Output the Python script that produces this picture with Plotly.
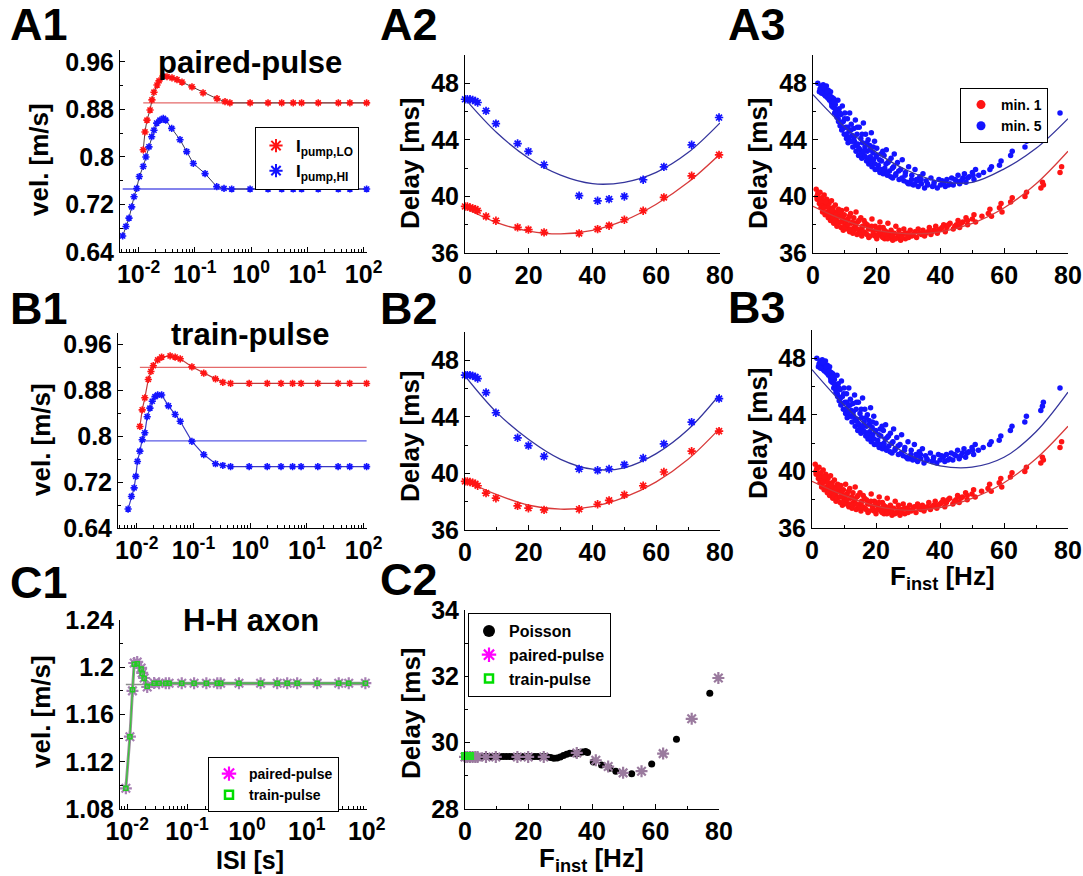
import plotly.graph_objects as go

W, H = 1083, 876
FONT = "Liberation Sans"
RED = "#ff1414"
BLUE = "#1414ff"
REDFIT = "#d83a3a"
BLUEFIT = "#34349c"

# ---------------- A1 : paired-pulse (ISI [s] vs velocity [m/s]) ----------------
a1_lo_isi = [0.0121, 0.0130, 0.0141, 0.0160, 0.0173, 0.0188, 0.0213, 0.0231, 0.0272, 0.032,
             0.0393, 0.0482, 0.0591, 0.089, 0.14, 0.248, 0.344, 0.42,
             0.96, 2.0, 3.5, 5.6, 7.9, 15.6, 35.5, 57, 113]
a1_lo_vel = [0.812, 0.842, 0.862, 0.879, 0.896, 0.909, 0.921, 0.928, 0.936, 0.935,
             0.933, 0.930, 0.926, 0.918, 0.908, 0.898, 0.893, 0.891,
             0.891, 0.891, 0.891, 0.891, 0.891, 0.891, 0.891, 0.891, 0.891]
a1_hi_isi = [0.00522, 0.00598, 0.00676, 0.00755, 0.0083, 0.00927, 0.0103, 0.0121, 0.0135, 0.0153,
             0.0171, 0.0188, 0.021, 0.024, 0.0275, 0.0303, 0.0388, 0.0545, 0.0716, 0.094,
             0.152, 0.245, 0.33, 0.452,
             0.96, 2.0, 3.5, 5.6, 7.9, 15.6, 35.5, 57, 113]
a1_hi_vel = [0.667, 0.683, 0.697, 0.716, 0.733, 0.747, 0.767, 0.784, 0.800, 0.817,
             0.834, 0.845, 0.857, 0.862, 0.865, 0.862, 0.848, 0.829, 0.809, 0.789,
             0.772, 0.750, 0.747, 0.746,
             0.746, 0.746, 0.746, 0.746, 0.746, 0.746, 0.746, 0.746, 0.746]
a1_ref_isi = [0.0121, 113]
a1_ref_lo = [0.891, 0.891]
a1_ref_hi_isi = [0.00522, 113]
a1_ref_hi = [0.746, 0.746]

# ---------------- B1 : train-pulse ----------------
b1_lo_isi = [0.01137, 0.0125, 0.0139, 0.016, 0.0178, 0.0196, 0.0234, 0.0275, 0.0388, 0.0476,
             0.0585, 0.094, 0.152, 0.245, 0.33, 0.452,
             0.96, 2.0, 3.5, 5.6, 7.9, 15.6, 35.5, 57, 113]
b1_lo_vel = [0.817, 0.846, 0.867, 0.899, 0.913, 0.923, 0.933, 0.938, 0.940, 0.938,
             0.935, 0.921, 0.910, 0.900, 0.894, 0.892,
             0.892, 0.892, 0.892, 0.892, 0.892, 0.892, 0.892, 0.892, 0.892]
b1_hi_isi = [0.00705, 0.00807, 0.009, 0.00964, 0.0103, 0.01137, 0.0125, 0.0139, 0.0153, 0.0171,
             0.0188, 0.021, 0.0234, 0.0275, 0.0362, 0.0476, 0.0585, 0.094, 0.152, 0.245,
             0.33, 0.452,
             0.96, 2.0, 3.5, 5.6, 7.9, 15.6, 35.5, 57, 113]
b1_hi_vel = [0.673, 0.695, 0.710, 0.730, 0.756, 0.774, 0.794, 0.806, 0.834, 0.849,
             0.861, 0.869, 0.872, 0.872, 0.853, 0.838, 0.826, 0.791, 0.768, 0.752,
             0.749, 0.747,
             0.747, 0.747, 0.747, 0.747, 0.747, 0.747, 0.747, 0.747, 0.747]
b1_ref_isi = [0.01137, 113]
b1_ref_lo = [0.920, 0.920]
b1_ref_hi = [0.792, 0.792]

# ---------------- A2 / B2 : delay vs F_inst ----------------
f_pp = [0, 0.73, 1.57, 2.4, 3.24, 3.97, 6.6, 9.7, 16.5, 19.9, 24.8,
        35.8, 41.6, 45.2, 50.0, 55.9, 62.4, 71.1, 79.7]
a2_hi = [46.87, 46.87, 46.87, 46.82, 46.75, 46.64, 46.05, 45.15, 43.74, 43.18, 42.24,
         40.05, 39.69, 39.81, 40.0, 41.18, 42.09, 43.65, 45.58]
a2_lo = [39.29, 39.29, 39.22, 39.15, 39.10, 38.99, 38.59, 38.28, 37.81, 37.65, 37.46,
         37.39, 37.69, 37.93, 38.35, 38.99, 39.93, 41.46, 42.94]
b2_hi = [46.95, 46.95, 46.95, 46.90, 46.83, 46.71, 45.72, 44.29, 42.52, 41.97, 41.21,
         40.31, 40.22, 40.31, 40.62, 41.09, 42.09, 43.63, 45.29]
b2_lo = [39.44, 39.44, 39.39, 39.34, 39.27, 39.13, 38.61, 38.25, 37.71, 37.54, 37.42,
         37.47, 37.82, 38.09, 38.49, 39.13, 40.10, 41.57, 42.99]

fit_f = [0, 10, 20, 30, 40, 50, 60, 70, 80]
a2_fit_hi = [46.9, 44.5, 42.7, 41.5, 40.9, 41.0, 41.7, 43.1, 45.2]
a2_fit_lo = [39.2, 38.15, 37.55, 37.35, 37.6, 38.3, 39.45, 41.0, 43.0]
b2_fit_hi = [46.9, 44.3, 42.4, 41.0, 40.3, 40.4, 41.4, 43.1, 45.6]
b2_fit_lo = [39.5, 38.5, 37.75, 37.47, 37.65, 38.3, 39.4, 41.0, 43.2]
a3_fit_hi = [47.2, 44.9, 43.1, 41.8, 41.05, 41.0, 41.95, 43.4, 45.5]
a3_fit_lo = [39.3, 38.3, 37.6, 37.35, 37.5, 38.1, 39.2, 40.9, 43.2]
b3_fit_hi = [47.2, 44.7, 42.7, 41.2, 40.4, 40.3, 41.0, 42.8, 45.6]
b3_fit_lo = [39.3, 38.3, 37.55, 37.25, 37.45, 38.1, 39.2, 40.9, 43.2]

# ---------------- A3 / B3 : measured delays (min. 1 red, min. 5 blue) ----------------
m5_f = [1.5, 2.0, 2.5, 3.0, 3.2, 3.5, 3.8, 4.0, 4.2, 4.5, 4.8, 5.0, 5.2, 5.5, 5.8, 6.0, 6.3, 6.5, 6.8, 7.0,
        7.3, 7.5, 7.8, 8.0, 8.2, 8.5, 8.8, 9.0, 9.2, 9.5, 9.8, 10.0, 10.3, 10.5, 10.8, 11.0, 11.3, 11.5, 11.8, 12.0,
        12.3, 12.5, 12.8, 13.0, 13.3, 13.5, 13.8, 14.0, 14.3, 14.5, 14.8, 15.0, 15.3, 15.5, 15.8, 16.0, 16.3, 16.5, 16.8, 17.0,
        17.3, 17.5, 17.8, 18.0, 18.3, 18.5, 18.8, 19.0, 19.3, 19.5, 19.8, 20.0, 20.5, 21.0, 21.3, 21.5, 22.0, 22.3, 22.5, 23.0,
        23.3, 23.5, 24.0, 24.5, 25.0, 25.3, 25.5, 26.0, 26.5, 27.0, 27.5, 28.0, 28.5, 29.0, 29.5, 30.0, 30.5, 31.0, 31.5, 32.0,
        32.5, 33.0, 33.5, 34.0, 34.5, 35.0, 35.5, 36.0, 37.0, 37.5, 38.0, 39.0, 39.5, 40.0, 41.0, 41.5, 42.0, 43.0, 43.5, 44.0,
        45.0, 45.5, 46.0, 47.0, 47.5, 48.0, 49.0, 50.0, 50.5, 51.0, 52.0, 53.5, 55.5, 56.0, 58.5, 59.0, 62.0, 62.5, 66.5, 67.0,
        71.5, 72.0, 72.3, 77.5,
        2.2, 2.7, 3.4, 3.9, 4.4, 4.9, 5.4, 5.9, 6.4, 6.9, 7.4, 7.9, 8.4, 8.9, 9.4, 9.9, 10.4, 10.9, 11.4, 11.9,
        12.4, 12.9, 13.4, 13.9, 14.4, 14.9, 15.4, 15.9, 16.4, 16.9, 17.4, 17.9, 18.4, 18.9, 19.4, 19.9, 20.4, 20.9, 21.4, 21.9,
        22.4, 22.9, 23.4, 23.9, 24.4, 24.9, 25.9, 26.9, 27.9, 28.9, 29.9, 30.9, 31.9, 32.9, 33.9, 35.9, 37.9, 40.5, 42.5, 44.5,
        46.5, 48.5, 50.2]
m5_d = [48.0, 47.4, 47.8, 47.5, 47.9, 47.2, 47.6, 47.3, 47.8, 47.0, 47.5, 47.2, 46.8, 47.4, 46.6, 47.0, 46.3, 46.9, 45.9, 46.5,
        46.1, 45.6, 46.8, 45.3, 46.2, 45.0, 45.8, 44.7, 46.4, 45.3, 44.4, 45.9, 44.9, 44.1, 45.5, 43.8, 44.6, 45.9, 43.9, 45.1,
        44.3, 43.5, 44.8, 43.9, 45.4, 43.2, 44.4, 43.7, 42.9, 44.9, 43.3, 44.1, 42.7, 43.8, 45.2, 42.9, 43.5, 44.4, 42.5, 43.2,
        44.0, 42.3, 43.6, 42.8, 44.5, 42.1, 43.1, 42.6, 43.9, 41.9, 42.8, 43.4, 42.2, 41.7, 43.0, 42.5, 41.6, 42.9, 42.0, 43.3,
        41.5, 42.4, 41.8, 42.7, 41.3, 42.1, 43.0, 41.6, 42.4, 41.2, 41.9, 42.6, 41.1, 41.7, 41.0, 42.1, 40.9, 41.5, 40.8, 41.9,
        41.2, 40.7, 41.4, 40.9, 41.6, 40.6, 41.1, 40.8, 41.3, 40.7, 41.0, 40.6, 41.2, 40.8, 41.0, 40.7, 41.2, 40.9, 41.3, 40.8,
        41.1, 41.5, 40.9, 41.3, 41.6, 41.0, 41.4, 41.7, 41.2, 41.9, 41.5, 41.7, 41.9, 42.1, 42.2, 42.5, 42.9, 43.2, 43.5, 43.9,
        44.3, 44.6, 44.9, 45.9,
        47.6, 47.3, 47.7, 47.1, 47.4, 46.9, 47.1, 46.4, 46.7, 46.2, 45.8, 45.5, 45.9, 45.2, 44.8, 45.5, 44.4, 44.9, 44.2, 44.7,
        43.9, 44.2, 43.6, 44.9, 43.4, 43.0, 44.4, 43.2, 42.8, 43.8, 42.6, 43.3, 42.4, 43.5, 42.3, 42.9, 41.9, 42.6, 41.9, 43.2,
        41.8, 42.3, 41.6, 42.5, 41.4, 42.0, 41.5, 41.8, 41.3, 41.5, 40.9, 41.2, 40.9, 41.1, 41.2, 40.9, 40.8, 41.1, 40.8, 41.2,
        41.1, 41.3, 41.5]
m1_f = [1.0, 1.3, 1.5, 2.0, 2.2, 2.5, 2.8, 3.0, 3.3, 3.5, 3.8, 4.0, 4.3, 4.5, 4.8, 5.0, 5.3, 5.5, 5.8, 6.0,
        6.3, 6.5, 6.8, 7.0, 7.3, 7.5, 7.8, 8.0, 8.3, 8.5, 8.8, 9.0, 9.3, 9.5, 9.8, 10.0, 10.5, 10.8, 11.0, 11.5,
        11.8, 12.0, 12.5, 12.8, 13.0, 13.5, 13.8, 14.0, 14.5, 15.0, 15.3, 15.5, 16.0, 16.5, 17.0, 17.5, 18.0, 18.5, 19.0, 19.5,
        20.0, 20.5, 21.0, 21.5, 22.0, 22.5, 23.0, 23.5, 24.0, 24.5, 25.0, 25.5, 26.0, 26.5, 27.0, 27.5, 28.0, 28.5, 29.0, 29.5,
        30.0, 30.5, 31.0, 32.0, 32.5, 33.0, 34.0, 34.5, 35.0, 36.0, 36.5, 37.0, 38.0, 38.5, 39.0, 40.0, 41.0, 41.5, 42.0, 43.0,
        44.0, 45.0, 45.5, 46.0, 47.0, 48.0, 48.5, 50.0, 50.5, 51.0, 53.0, 55.0, 55.5, 56.0, 58.5, 59.0, 59.3, 62.0, 62.5, 66.5,
        67.0, 71.5, 72.0, 72.3, 77.5, 78.0,
        1.2, 1.8, 2.4, 2.9, 3.4, 3.9, 4.4, 4.9, 5.4, 5.9, 6.4, 6.9, 7.4, 7.9, 8.4, 8.9, 9.4, 9.9, 10.4, 10.9,
        11.4, 11.9, 12.4, 12.9, 13.4, 13.9, 14.4, 14.9, 15.4, 15.9, 16.4, 16.9, 17.4, 17.9, 18.4, 18.9, 19.4, 19.9, 20.4, 20.9,
        21.4, 21.9, 22.4, 22.9, 23.4, 23.9, 24.9, 25.9, 26.9, 27.9, 28.9, 29.9, 31.4, 33.4, 35.4, 37.4, 39.4, 40.5, 42.5, 44.5,
        46.5, 48.5]
m1_d = [40.5, 39.8, 40.2, 39.5, 40.3, 39.2, 39.9, 38.9, 39.6, 40.1, 38.7, 39.3, 39.8, 38.9, 38.5, 39.5, 39.0, 38.3, 39.7, 38.7,
        39.2, 38.1, 38.9, 39.4, 38.4, 37.9, 38.8, 39.1, 38.2, 38.6, 37.8, 39.0, 38.3, 37.6, 38.7, 38.0, 39.1, 37.7, 38.4, 37.5,
        38.8, 38.1, 37.4, 38.5, 37.8, 38.9, 37.3, 38.2, 37.6, 38.5, 37.2, 37.9, 38.3, 37.4, 38.0, 37.1, 37.7, 38.4, 37.3, 37.9,
        37.0, 37.6, 38.2, 37.2, 37.8, 37.0, 37.5, 38.1, 37.1, 37.6, 36.9, 37.4, 37.9, 37.1, 37.6, 36.9, 37.3, 37.7, 37.0, 37.4,
        37.1, 37.6, 37.2, 37.5, 37.1, 37.7, 37.3, 37.6, 37.2, 37.5, 37.8, 37.3, 37.6, 37.9, 37.4, 37.7, 38.0, 37.5, 37.8, 38.1,
        37.7, 38.0, 38.3, 37.8, 38.2, 38.5, 38.0, 38.4, 38.7, 38.2, 38.6, 38.8, 39.1, 38.6, 39.2, 39.5, 38.9, 39.6, 39.9, 40.0,
        40.3, 40.6, 41.0, 40.8, 41.7, 42.1,
        40.0, 39.9, 39.6, 39.3, 39.2, 39.6, 38.8, 39.2, 38.6, 39.0, 38.5, 38.3, 38.7, 38.1, 38.9, 38.2, 38.5, 37.8, 38.3, 38.0,
        38.6, 37.7, 38.2, 37.6, 38.0, 37.7, 38.3, 37.4, 37.8, 37.5, 38.1, 37.3, 37.7, 37.2, 37.9, 37.5, 37.2, 37.7, 37.3, 37.8,
        37.4, 37.1, 37.6, 37.3, 37.0, 37.4, 37.2, 37.0, 37.3, 37.1, 37.4, 37.3, 37.3, 37.4, 37.4, 37.5, 37.6, 37.8, 38.0, 37.9,
        38.1, 38.3]

# ---------------- C1 : H-H axon ----------------
c1_isi = [0.0095, 0.0111, 0.01225, 0.0131, 0.0147, 0.0171, 0.0178, 0.0192, 0.0216, 0.0282,
          0.0341, 0.0441, 0.0501, 0.0815, 0.131, 0.21, 0.32, 0.364, 0.736, 1.69,
          3.2, 4.7, 6.9, 14.9, 34.1, 50.1, 95]
c1_pp = [1.0975, 1.1412, 1.180, 1.2036, 1.2045, 1.1994, 1.1952, 1.1909, 1.1833, 1.1867,
         1.1865, 1.1865, 1.1865, 1.1865, 1.1865, 1.1865, 1.1865, 1.1865, 1.1865, 1.1865,
         1.1865, 1.1865, 1.1865, 1.1865, 1.1865, 1.1865, 1.1865]
c1_tp = [1.0975, 1.1412, 1.181, 1.2025, 1.2030, 1.1985, 1.1945, 1.1905, 1.1840, 1.1865,
         1.1865, 1.1865, 1.1865, 1.1865, 1.1865, 1.1865, 1.1865, 1.1865, 1.1865, 1.1865,
         1.1865, 1.1865, 1.1865, 1.1865, 1.1865, 1.1865, 1.1865]
c1_ref_isi = [0.0095, 95]
c1_ref = [1.1855, 1.1855]

# ---------------- C2 : H-H axon delay ----------------
c2_pois_f = [2, 3, 4, 5, 6, 7, 8, 9, 10, 11, 12, 13, 14, 15, 16, 17, 18, 19, 20, 21,
             22, 23, 24, 25, 26, 27, 28, 29, 30, 31, 32, 33, 34, 35, 36, 37, 38, 38.6,
             40.4, 43.0, 45.6, 47.5, 52.5, 58.8, 66.6, 77.1]
c2_pois_d = [29.58, 29.58, 29.58, 29.58, 29.58, 29.58, 29.58, 29.58, 29.58, 29.58,
             29.58, 29.58, 29.58, 29.58, 29.58, 29.58, 29.58, 29.58, 29.58, 29.58,
             29.58, 29.58, 29.58, 29.58, 29.57, 29.55, 29.53, 29.54, 29.57, 29.61,
             29.65, 29.68, 29.67, 29.66, 29.70, 29.72, 29.73, 29.70,
             29.42, 29.33, 29.23, 29.14, 29.06, 29.36, 30.10, 31.49]
c2_pp_f = [0, 0.73, 1.57, 2.4, 3.24, 3.97, 6.6, 9.7, 16.5, 19.9, 24.8,
           35.2, 41.2, 45.1, 49.8, 55.6, 62.4, 71.4, 79.8]
c2_pp_d = [29.57, 29.57, 29.57, 29.57, 29.57, 29.57, 29.57, 29.57, 29.57, 29.57, 29.57,
           29.69, 29.47, 29.28, 29.09, 29.14, 29.67, 30.72, 31.95]
c2_tp_f = [0, 0.4, 0.8, 1.2, 1.6]
c2_tp_d = [29.6, 29.6, 29.6, 29.6, 29.6]

# ---------------- layout helpers ----------------
def xd(l, r):
    return [l / W, r / W]


def yd(t, b):
    return [1 - b / H, 1 - t / H]


panels = {
    1: (xd(120, 367), yd(50, 252)),
    2: (xd(465, 720), yd(55, 253)),
    3: (xd(813, 1068), yd(55, 253)),
    4: (xd(118, 367), yd(333, 528)),
    5: (xd(465, 720), yd(332, 530)),
    6: (xd(812, 1068), yd(330, 528)),
    7: (xd(120, 367), yd(620, 809)),
    8: (xd(465, 719), yd(610, 809)),
}


def ax(i):
    return ("x" if i == 1 else f"x{i}"), ("y" if i == 1 else f"y{i}")


fig = go.Figure()


def add(i, **kw):
    xa, ya = ax(i)
    kw.setdefault("showlegend", False)
    kw.setdefault("cliponaxis", False)
    fig.add_trace(go.Scatter(xaxis=xa, yaxis=ya, **kw))


def star(color, size=7, width=1.6):
    return dict(symbol="asterisk", size=size, color=color, line=dict(color=color, width=width))


# A1
add(1, x=a1_ref_isi, y=a1_ref_lo, mode="lines", line=dict(color="#e46a6a", width=1.3))
add(1, x=a1_ref_hi_isi, y=a1_ref_hi, mode="lines", line=dict(color="#5a5ae6", width=1.3))
add(1, x=a1_lo_isi, y=a1_lo_vel, mode="lines+markers", line=dict(color="#5a3838", width=1), marker=star(RED, 6, 1.6))
add(1, x=a1_hi_isi, y=a1_hi_vel, mode="lines+markers", line=dict(color="#38385a", width=1), marker=star(BLUE, 6, 1.6))
add(1, x=[None], y=[None], mode="markers", marker=star(RED, 11, 2), name="I<sub>pump,LO</sub>", showlegend=True, legend="legend")
add(1, x=[None], y=[None], mode="markers", marker=star(BLUE, 11, 2), name="I<sub>pump,HI</sub>", showlegend=True, legend="legend")

# B1
add(4, x=b1_ref_isi, y=b1_ref_lo, mode="lines", line=dict(color="#e46a6a", width=1.3))
add(4, x=b1_ref_isi, y=b1_ref_hi, mode="lines", line=dict(color="#5a5ae6", width=1.3))
add(4, x=b1_lo_isi, y=b1_lo_vel, mode="lines+markers", line=dict(color="#c03a3a", width=1.2), marker=star(RED, 6, 1.6))
add(4, x=b1_hi_isi, y=b1_hi_vel, mode="lines+markers", line=dict(color="#3a3ac0", width=1.2), marker=star(BLUE, 6, 1.6))

# A2 / B2
for i, hi, lo, fhi, flo in [(2, a2_hi, a2_lo, a2_fit_hi, a2_fit_lo), (5, b2_hi, b2_lo, b2_fit_hi, b2_fit_lo)]:
    add(i, x=fit_f, y=fhi, mode="lines", line=dict(color=BLUEFIT, width=1.3, shape="spline"))
    add(i, x=fit_f, y=flo, mode="lines", line=dict(color=REDFIT, width=1.3, shape="spline"))
    add(i, x=f_pp, y=hi, mode="markers", marker=star(BLUE, 7, 1.7))
    add(i, x=f_pp, y=lo, mode="markers", marker=star(RED, 7, 1.7))

# A3 / B3
for i, fhi, flo in [(3, a3_fit_hi, a3_fit_lo), (6, b3_fit_hi, b3_fit_lo)]:
    add(i, x=m5_f, y=m5_d, mode="markers", marker=dict(symbol="circle", size=5.5, color=BLUE))
    add(i, x=m1_f, y=m1_d, mode="markers", marker=dict(symbol="circle", size=5.5, color=RED))
    add(i, x=fit_f, y=fhi, mode="lines", line=dict(color=BLUEFIT, width=1.3, shape="spline"))
    add(i, x=fit_f, y=flo, mode="lines", line=dict(color=REDFIT, width=1.3, shape="spline"))
add(3, x=[None], y=[None], mode="markers", marker=dict(symbol="circle", size=9, color=RED), name="min. 1", showlegend=True, legend="legend2")
add(3, x=[None], y=[None], mode="markers", marker=dict(symbol="circle", size=9, color=BLUE), name="min. 5", showlegend=True, legend="legend2")

# C1
add(7, x=c1_ref_isi, y=c1_ref, mode="lines", line=dict(color="#8c8c8c", width=1.5))
add(7, x=c1_isi, y=c1_pp, mode="lines+markers", line=dict(color="#9c8c9c", width=3),
    marker=star("#a77fb3", 10, 2.2))
add(7, x=c1_isi, y=c1_tp, mode="lines+markers", line=dict(color="#39c839", width=1.3),
    marker=dict(symbol="square-open", size=4, color="#22cc22", line=dict(width=1.5, color="#22cc22")))
add(7, x=[None], y=[None], mode="markers", marker=star("#ff00ff", 12, 2.2), name="paired-pulse", showlegend=True, legend="legend3")
add(7, x=[None], y=[None], mode="markers", marker=dict(symbol="square-open", size=8, color="#00dd00", line=dict(width=2.5, color="#00dd00")),
    name="train-pulse", showlegend=True, legend="legend3")

# C2
add(8, x=c2_pois_f, y=c2_pois_d, mode="markers", marker=dict(symbol="circle", size=7, color="black"))
add(8, x=c2_pp_f, y=c2_pp_d, mode="markers", marker=star("#9a7a9e", 10, 2.2))
add(8, x=c2_tp_f, y=c2_tp_d, mode="markers",
    marker=dict(symbol="square-open", size=6, color="#22dd22", line=dict(width=2, color="#22dd22")))
add(8, x=[None], y=[None], mode="markers", marker=dict(symbol="circle", size=12, color="black"), name="Poisson", showlegend=True, legend="legend4")
add(8, x=[None], y=[None], mode="markers", marker=star("#ff00ff", 12, 2.2), name="paired-pulse", showlegend=True, legend="legend4")
add(8, x=[None], y=[None], mode="markers", marker=dict(symbol="square-open", size=8, color="#00dd00", line=dict(width=2.5, color="#00dd00")),
    name="train-pulse", showlegend=True, legend="legend4")

# ---------------- axes ----------------
tickfont = dict(family=FONT, size=25, color="black", weight="bold")


def base_axis():
    return dict(showline=True, linecolor="black", linewidth=1, ticks="inside", ticklen=5,
                tickwidth=1, tickcolor="black", showgrid=False, zeroline=False,
                tickfont=tickfont, mirror=False, fixedrange=True, automargin=False)


log_major = [0.01, 0.1, 1, 10, 100]
log_text = ["10<sup>-2</sup>", "10<sup>-1</sup>", "10<sup>0</sup>", "10<sup>1</sup>", "10<sup>2</sup>"]
log_minor = [k * 10.0 ** e for e in range(-3, 3) for k in range(2, 10)]

lay = {}
for i, (dx, dy) in panels.items():
    xa, ya = ax(i)
    xk = "xaxis" if i == 1 else f"xaxis{i}"
    yk = "yaxis" if i == 1 else f"yaxis{i}"
    xax = base_axis()
    yax = base_axis()
    xax.update(domain=dx, anchor=ya)
    yax.update(domain=dy, anchor=xa)
    if i in (1, 4, 7):
        xax.update(type="log", tickmode="array", tickvals=log_major, ticktext=log_text,
                   minor=dict(ticks="inside", ticklen=3, tickcolor="black", tickmode="array", tickvals=log_minor))
        if i == 7:
            xax.update(range=[-2.12, 2.005])
            yax.update(range=[1.08, 1.24], tickmode="array", tickvals=[1.08, 1.12, 1.16, 1.2, 1.24],
                       ticktext=["1.08", "1.12", "1.16", "1.2", "1.24"],
                       minor=dict(ticks="inside", ticklen=3, tickcolor="black", dtick=0.02, tick0=1.08))
        else:
            xax.update(range=[-2.33, 2.06])
            yax.update(range=[0.64, 0.98], tickmode="array", tickvals=[0.64, 0.72, 0.8, 0.88, 0.96],
                       ticktext=["0.64", "0.72", "0.8", "0.88", "0.96"],
                       minor=dict(ticks="inside", ticklen=3, tickcolor="black", dtick=0.04, tick0=0.64))
    else:
        xax.update(range=[0, 80], tickmode="array", tickvals=[0, 20, 40, 60, 80],
                   minor=dict(ticks="inside", ticklen=3, tickcolor="black", dtick=10, tick0=0))
        if i == 8:
            yax.update(range=[28, 34], tickmode="array", tickvals=[28, 30, 32, 34],
                       minor=dict(ticks="inside", ticklen=3, tickcolor="black", dtick=1, tick0=28))
        else:
            yax.update(range=[36, 50], tickmode="array", tickvals=[36, 40, 44, 48],
                       minor=dict(ticks="inside", ticklen=3, tickcolor="black", dtick=2, tick0=36))
    lay[xk] = xax
    lay[yk] = yax

# ---------------- annotations ----------------
ann = []


def text(px, py, s, size, angle=0, xanchor="center", yanchor="middle"):
    ann.append(dict(x=px / W, y=1 - py / H, xref="paper", yref="paper", text=s, showarrow=False,
                    xanchor=xanchor, yanchor=yanchor, textangle=angle,
                    font=dict(family=FONT, size=size, color="black", weight="bold")))


for lbl, px, py in [("A1", 8, 24), ("A2", 378, 24), ("A3", 726, 24),
                    ("B1", 8, 309), ("B2", 378, 309), ("B3", 726, 307),
                    ("C1", 8, 582), ("C2", 378, 579)]:
    text(px, py, lbl, 45, xanchor="left")

text(250, 62, "paired-pulse", 31)
text(250, 334, "train-pulse", 31)
text(251, 620, "H-H axon", 31)

for px, py in [(39, 160), (41, 440), (41, 712)]:
    text(px, py, "vel. [m/s]", 26, angle=-90)
for px, py in [(410, 163), (758, 163), (410, 436), (758, 433), (411, 713)]:
    text(px, py, "Delay [ms]", 26, angle=-90)
text(942, 577, "F<sub>inst</sub> [Hz]", 26)
text(250, 860, "ISI [s]", 25)
text(591, 859, "F<sub>inst</sub> [Hz]", 26)


def legend_box(px, py, size):
    return dict(x=px / W, y=1 - py / H, xanchor="left", yanchor="top", bgcolor="white",
                bordercolor="black", borderwidth=1, font=dict(family=FONT, size=size, color="black", weight="bold"),
                tracegroupgap=0, itemwidth=30)


fig.update_layout(
    width=W, height=H, autosize=False,
    margin=dict(l=0, r=0, t=0, b=0, autoexpand=False),
    paper_bgcolor="white", plot_bgcolor="white",
    font=dict(family=FONT, color="black", weight="bold"),
    showlegend=True,
    legend=legend_box(255, 127, 17),
    legend2=legend_box(960, 88, 14),
    legend3=legend_box(208, 757, 14),
    legend4=legend_box(468, 613, 16),
    annotations=ann,
    **lay,
)

fig.write_html("out.html", config={"displayModeBar": False},
               post_script="document.body.style.margin='0';document.body.style.overflow='hidden';")
